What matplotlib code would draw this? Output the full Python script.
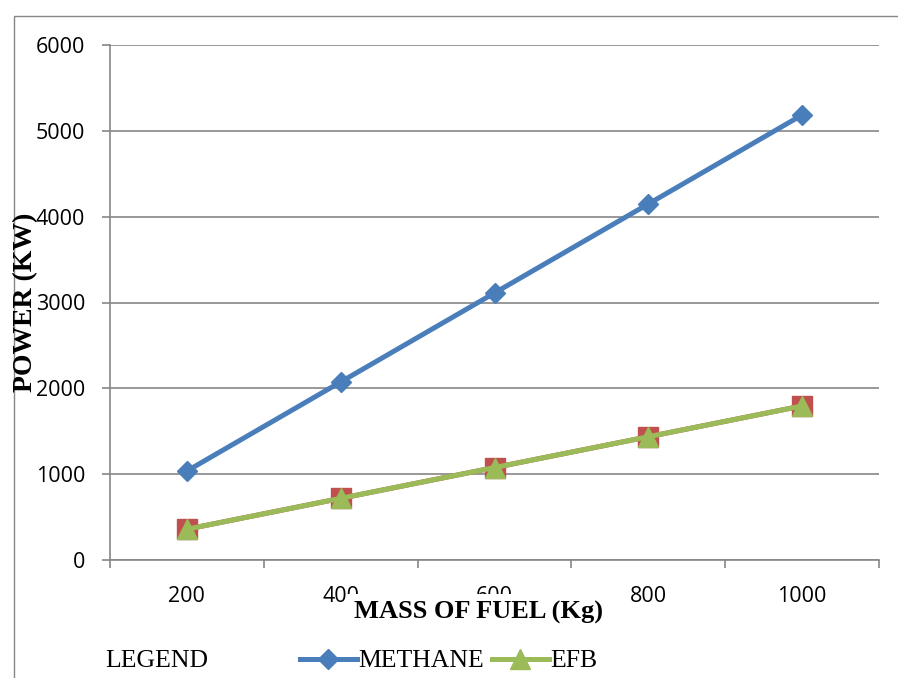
import matplotlib.pyplot as plt
from matplotlib.patches import Rectangle
from matplotlib.lines import Line2D

# data
mass = ["200", "400", "600", "800", "1000"]
methane = [1037, 2074, 3111, 4148, 5185]
series2 = [359, 718, 1077, 1436, 1795]   # red squares, not named in the legend
efb = [359, 718, 1077, 1436, 1795]
y_ticks = [0, 1000, 2000, 3000, 4000, 5000, 6000]

W, H = 898, 678
grey = "#868686"
blue = "#4A7EBB"
red = "#C0504D"
green = "#9BBB59"
serif = "Liberation Serif"
sans = "Open Sans"

fig = plt.figure(figsize=(W / 100, H / 100), dpi=100)
fig.patch.set_facecolor("white")

# outer chart border (right/bottom fall outside the picture)
fig.add_artist(Rectangle((14 / W, -0.1), 1.2, (H - 16) / H + 0.1,
                         transform=fig.transFigure, fill=False,
                         edgecolor=grey, linewidth=1.0))

left, right, top, bottom = 110, 879, 45, 560
ax = fig.add_axes([left / W, (H - bottom) / H, (right - left) / W, (bottom - top) / H])

x = list(range(len(mass)))
ax.plot(x, methane, color=blue, lw=3.6, marker="D", ms=10.5, zorder=3)
ax.plot(x, series2, color=red, lw=3.6, marker="s", ms=14, zorder=4)
ax.plot(x, efb, color=green, lw=3.6, marker="^", ms=14.5, zorder=5)

ax.set_xlim(-0.5, len(mass) - 0.5)
ax.set_ylim(0, 6000)
ax.set_yticks(y_ticks)
ax.set_yticklabels([str(v) for v in y_ticks], fontsize=15.5, fontfamily=sans)
ax.grid(axis="y", color=grey, lw=1.2)
ax.set_axisbelow(True)

# category boundaries as major ticks, labels on minor ticks
ax.set_xticks([i - 0.5 for i in range(len(mass) + 1)])
ax.set_xticklabels([])
ax.set_xticks(x, minor=True)
ax.set_xticklabels(mass, minor=True, fontsize=15.5, fontfamily=sans)
ax.tick_params(axis="x", which="major", length=6, width=1.2, color=grey, direction="out")
ax.tick_params(axis="x", which="minor", length=0, pad=19)
ax.tick_params(axis="y", length=6, width=1.2, color=grey, direction="out", pad=12)

for s in ["top", "right"]:
    ax.spines[s].set_visible(False)
for s in ["left", "bottom"]:
    ax.spines[s].set_color(grey)
    ax.spines[s].set_linewidth(1.2)

# axis titles, drawn over the tick labels like the original
fig.text(478 / W, 1 - 612 / H, "MASS OF FUEL (Kg)", ha="center", va="center",
         fontsize=19, fontweight="bold", fontfamily=serif, zorder=10,
         bbox=dict(facecolor="white", edgecolor="none", pad=5))
fig.text(26 / W, 1 - 302 / H, "POWER (KW)", ha="center", va="center", rotation=90,
         fontsize=20, fontweight="bold", fontfamily=serif, zorder=10)

# legend row
fig.text(105 / W, 1 - 661 / H, "LEGEND", ha="left", va="center",
         fontsize=18.5, fontfamily=serif)
handles = [
    Line2D([], [], color=blue, lw=3.6, marker="D", ms=10.5),
    Line2D([], [], color=green, lw=3.6, marker="^", ms=14.5),
]
leg = fig.legend(handles, ["METHANE", "EFB"], loc="center left",
                 bbox_to_anchor=(300 / W, 1 - 661 / H), ncol=2, frameon=False,
                 prop={"family": serif, "size": 18.5}, handlelength=2.2,
                 handletextpad=0.08, columnspacing=0.3, borderpad=0, borderaxespad=0)

fig.savefig("out.png", dpi=100)
